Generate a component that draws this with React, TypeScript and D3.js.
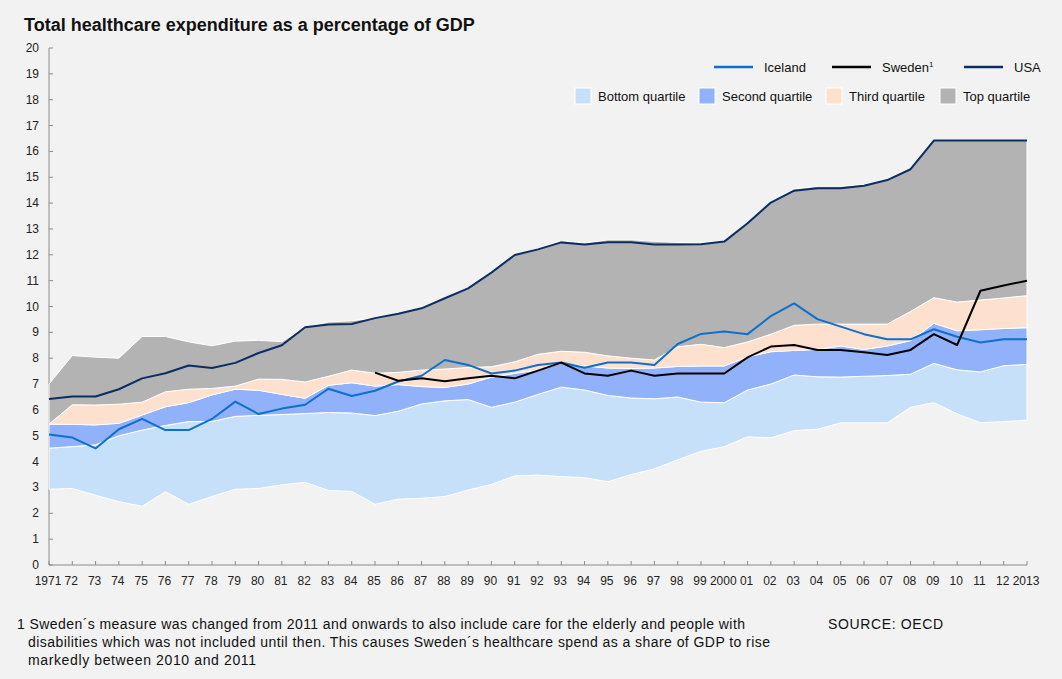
import React from 'react';
import * as d3 from 'd3';

// years on the category axis
const years = [
  1971, 1972, 1973, 1974, 1975, 1976, 1977, 1978, 1979, 1980,
  1981, 1982, 1983, 1984, 1985, 1986, 1987, 1988, 1989, 1990,
  1991, 1992, 1993, 1994, 1995, 1996, 1997, 1998, 1999, 2000,
  2001, 2002, 2003, 2004, 2005, 2006, 2007, 2008, 2009, 2010,
  2011, 2012, 2013,
];
const yearLabels = [
  '1971', '72', '73', '74', '75', '76', '77', '78', '79', '80',
  '81', '82', '83', '84', '85', '86', '87', '88', '89', '90',
  '91', '92', '93', '94', '95', '96', '97', '98', '99', '2000',
  '01', '02', '03', '04', '05', '06', '07', '08', '09', '10',
  '11', '12', '2013',
];
const yTicks = [0, 1, 2, 3, 4, 5, 6, 7, 8, 9, 10, 11, 12, 13, 14, 15, 16, 17, 18, 19, 20];

// quartile band edges (OECD spread), % of GDP
const minimum = [
  2.93, 2.96, 2.7, 2.45, 2.27, 2.84, 2.35, 2.65, 2.93, 2.96,
  3.1, 3.2, 2.88, 2.85, 2.35, 2.55, 2.58, 2.65, 2.9, 3.12,
  3.45, 3.48, 3.42, 3.38, 3.22, 3.5, 3.72, 4.07, 4.4, 4.58,
  4.96, 4.92, 5.2, 5.25, 5.5, 5.5, 5.5, 6.1, 6.28, 5.85,
  5.5, 5.55, 5.6,
];
const firstQuartile = [
  4.52, 4.58, 4.65, 5.0, 5.22, 5.4, 5.55, 5.55, 5.75, 5.79,
  5.82, 5.86, 5.9, 5.88, 5.78, 5.95, 6.23, 6.35, 6.4, 6.1,
  6.3, 6.6, 6.88, 6.77, 6.56, 6.46, 6.43, 6.5, 6.3, 6.28,
  6.77, 7.0, 7.35, 7.28, 7.27, 7.3, 7.33, 7.38, 7.8, 7.55,
  7.47, 7.71, 7.76,
];
const median = [
  5.45, 5.44, 5.42, 5.48, 5.8, 6.12, 6.28, 6.58, 6.8, 6.76,
  6.6, 6.45, 6.95, 7.05, 6.92, 6.98, 6.9, 6.87, 7.0, 7.27,
  7.41, 7.55, 7.8, 7.7, 7.62, 7.6, 7.62, 7.68, 7.7, 7.7,
  8.05, 8.25, 8.3, 8.34, 8.47, 8.34, 8.47, 8.68, 9.35, 9.06,
  9.1, 9.15, 9.18,
];
const thirdQuartile = [
  5.45, 6.2, 6.19, 6.22, 6.3, 6.7, 6.8, 6.83, 6.92, 7.19,
  7.18, 7.08, 7.3, 7.54, 7.42, 7.45, 7.54, 7.58, 7.64, 7.67,
  7.86, 8.15, 8.27, 8.23, 8.09, 8.0, 7.93, 8.44, 8.54, 8.41,
  8.63, 8.93, 9.27, 9.32, 9.32, 9.32, 9.32, 9.81, 10.34, 10.17,
  10.25, 10.33, 10.42,
];
const maximum = [
  7.0, 8.1, 8.04, 8.0, 8.84, 8.84, 8.63, 8.48, 8.66, 8.69,
  8.64, 9.2, 9.4, 9.45, 9.55, 9.72, 9.93, 10.32, 10.7, 11.28,
  12.0, 12.22, 12.55, 12.45, 12.58, 12.58, 12.52, 12.48, 12.46, 12.55,
  13.22, 14.04, 14.55, 14.65, 14.65, 14.72, 14.92, 15.34, 16.42, 16.42,
  16.42, 16.42, 16.42,
];

// country series
const iceland = [
  5.05, 4.93, 4.51, 5.25, 5.65, 5.22, 5.22, 5.65, 6.32, 5.84,
  6.05, 6.2, 6.82, 6.54, 6.74, 7.1, 7.32, 7.93, 7.74, 7.41,
  7.52, 7.74, 7.83, 7.63, 7.83, 7.83, 7.74, 8.55, 8.94, 9.03,
  8.93, 9.63, 10.12, 9.51, 9.22, 8.93, 8.73, 8.73, 9.12, 8.83,
  8.61, 8.73, 8.73,
];
const sweden: (number | null)[] = [
  null, null, null, null, null, null, null, null, null, null,
  null, null, null, null, 7.44, 7.13, 7.22, 7.11, 7.22, 7.32,
  7.22, 7.52, 7.83, 7.41, 7.32, 7.52, 7.32, 7.41, 7.41, 7.41,
  8.03, 8.45, 8.51, 8.32, 8.32, 8.23, 8.12, 8.32, 8.93, 8.51,
  10.61, 10.81, 11.0,
];
const usa = [
  6.42, 6.52, 6.52, 6.8, 7.22, 7.42, 7.72, 7.62, 7.82, 8.2,
  8.5, 9.2, 9.3, 9.32, 9.55, 9.72, 9.93, 10.32, 10.7, 11.31,
  11.99, 12.21, 12.48, 12.4, 12.49, 12.49, 12.4, 12.4, 12.41, 12.51,
  13.22, 14.02, 14.48, 14.57, 14.57, 14.67, 14.89, 15.31, 16.42, 16.42,
  16.42, 16.42, 16.42,
];

const bands = [
  { name: 'Bottom quartile', lo: minimum, hi: firstQuartile, color: '#c7e0f9' },
  { name: 'Second quartile', lo: firstQuartile, hi: median, color: '#91b1fb' },
  { name: 'Third quartile', lo: median, hi: thirdQuartile, color: '#fde0cd' },
  { name: 'Top quartile', lo: thirdQuartile, hi: maximum, color: '#b3b3b3' },
];
const countries = [
  { name: 'Iceland', values: iceland as (number | null)[], color: '#0f6fcb' },
  { name: 'Sweden', values: sweden, color: '#000000' },
  { name: 'USA', values: usa as (number | null)[], color: '#0b2d62' },
];

const W = 1062;
const H = 679;
const font = '"Liberation Sans", Arial, sans-serif';

export default function App() {
  const x = d3.scaleLinear().domain([1971, 2013]).range([49, 1027]);
  const y = d3.scaleLinear().domain([0, 20]).range([565, 48]);

  const areaFor = (lo: number[]) =>
    d3.area<number>()
      .x((_, i) => x(years[i]))
      .y0((_, i) => y(lo[i]))
      .y1((d) => y(d));

  const lineGen = d3.line<number | null>()
    .defined((d) => d != null)
    .x((_, i) => x(years[i]))
    .y((d) => y(d as number));

  const axisColor = '#8c8c8c';

  return (
    <svg width={W} height={H} style={{ position: 'absolute', left: 0, top: 0 }} fontFamily={font}>
      <rect width={W} height={H} fill="#f2f2f2" />
      <text x={24} y={31} fontSize={18} fontWeight="bold" fill="#111">
        Total healthcare expenditure as a percentage of GDP
      </text>

      {/* axes */}
      <line x1={x(1971)} x2={x(1971)} y1={y(0)} y2={y(20)} stroke={axisColor} />
      <line x1={x(1971)} x2={x(2013)} y1={y(0)} y2={y(0)} stroke={axisColor} />
      {yTicks.map((t) => (
        <g key={'y' + t}>
          <line x1={x(1971)} x2={x(1971) + 4} y1={y(t)} y2={y(t)} stroke={axisColor} />
          <text x={39} y={y(t) + 4} fontSize={12} textAnchor="end" fill="#222">{t}</text>
        </g>
      ))}
      {years.map((yr, i) => (
        <g key={'x' + yr}>
          <line x1={x(yr)} x2={x(yr)} y1={y(0)} y2={y(0) - 4} stroke={axisColor} />
          <text x={x(yr) - 1} y={585} fontSize={12} textAnchor="middle" fill="#222">{yearLabels[i]}</text>
        </g>
      ))}

      {/* quartile bands */}
      {bands.map((b) => (
        <path key={b.name} d={areaFor(b.lo)(b.hi) || ''} fill={b.color} stroke="#ffffff" strokeWidth={1} strokeLinejoin="round" />
      ))}

      {/* countries */}
      {countries.map((c) => (
        <path key={c.name} d={lineGen(c.values) || ''} fill="none" stroke={c.color} strokeWidth={2} strokeLinejoin="round" />
      ))}

      {/* legend: lines */}
      {countries.map((c, i) => {
        const lx = [714, 832, 964][i];
        return (
          <g key={'lg' + c.name}>
            <line x1={lx} x2={lx + 39} y1={67} y2={67} stroke={c.color} strokeWidth={2.5} />
            <text x={lx + 50} y={72} fontSize={13} fill="#111">
              {c.name}
              {c.name === 'Sweden' && <tspan fontSize={8} dy={-5}>1</tspan>}
            </text>
          </g>
        );
      })}
      {/* legend: bands */}
      {bands.map((b, i) => {
        const bx = [575, 699, 826, 940][i];
        return (
          <g key={'lb' + b.name}>
            <rect x={bx} y={88} width={16} height={16} fill={b.color} stroke="#ffffff" strokeWidth={1} />
            <text x={bx + 23} y={101} fontSize={13} fill="#111">{b.name}</text>
          </g>
        );
      })}

      {/* footnote */}
      <text fontSize={14} fill="#111">
        <tspan x={17} y={629} textLength={728} lengthAdjust="spacing">1 Sweden´s measure was changed from 2011 and onwards to also include care for the elderly and people with</tspan>
        <tspan x={28} y={647} textLength={742} lengthAdjust="spacing">disabilities which was not included until then. This causes Sweden´s healthcare spend as a share of GDP to rise</tspan>
        <tspan x={28} y={665} textLength={228} lengthAdjust="spacing">markedly between 2010 and 2011</tspan>
      </text>
      <text x={828} y={629} fontSize={14} fill="#111" textLength={115} lengthAdjust="spacing">SOURCE: OECD</text>
    </svg>
  );
}
